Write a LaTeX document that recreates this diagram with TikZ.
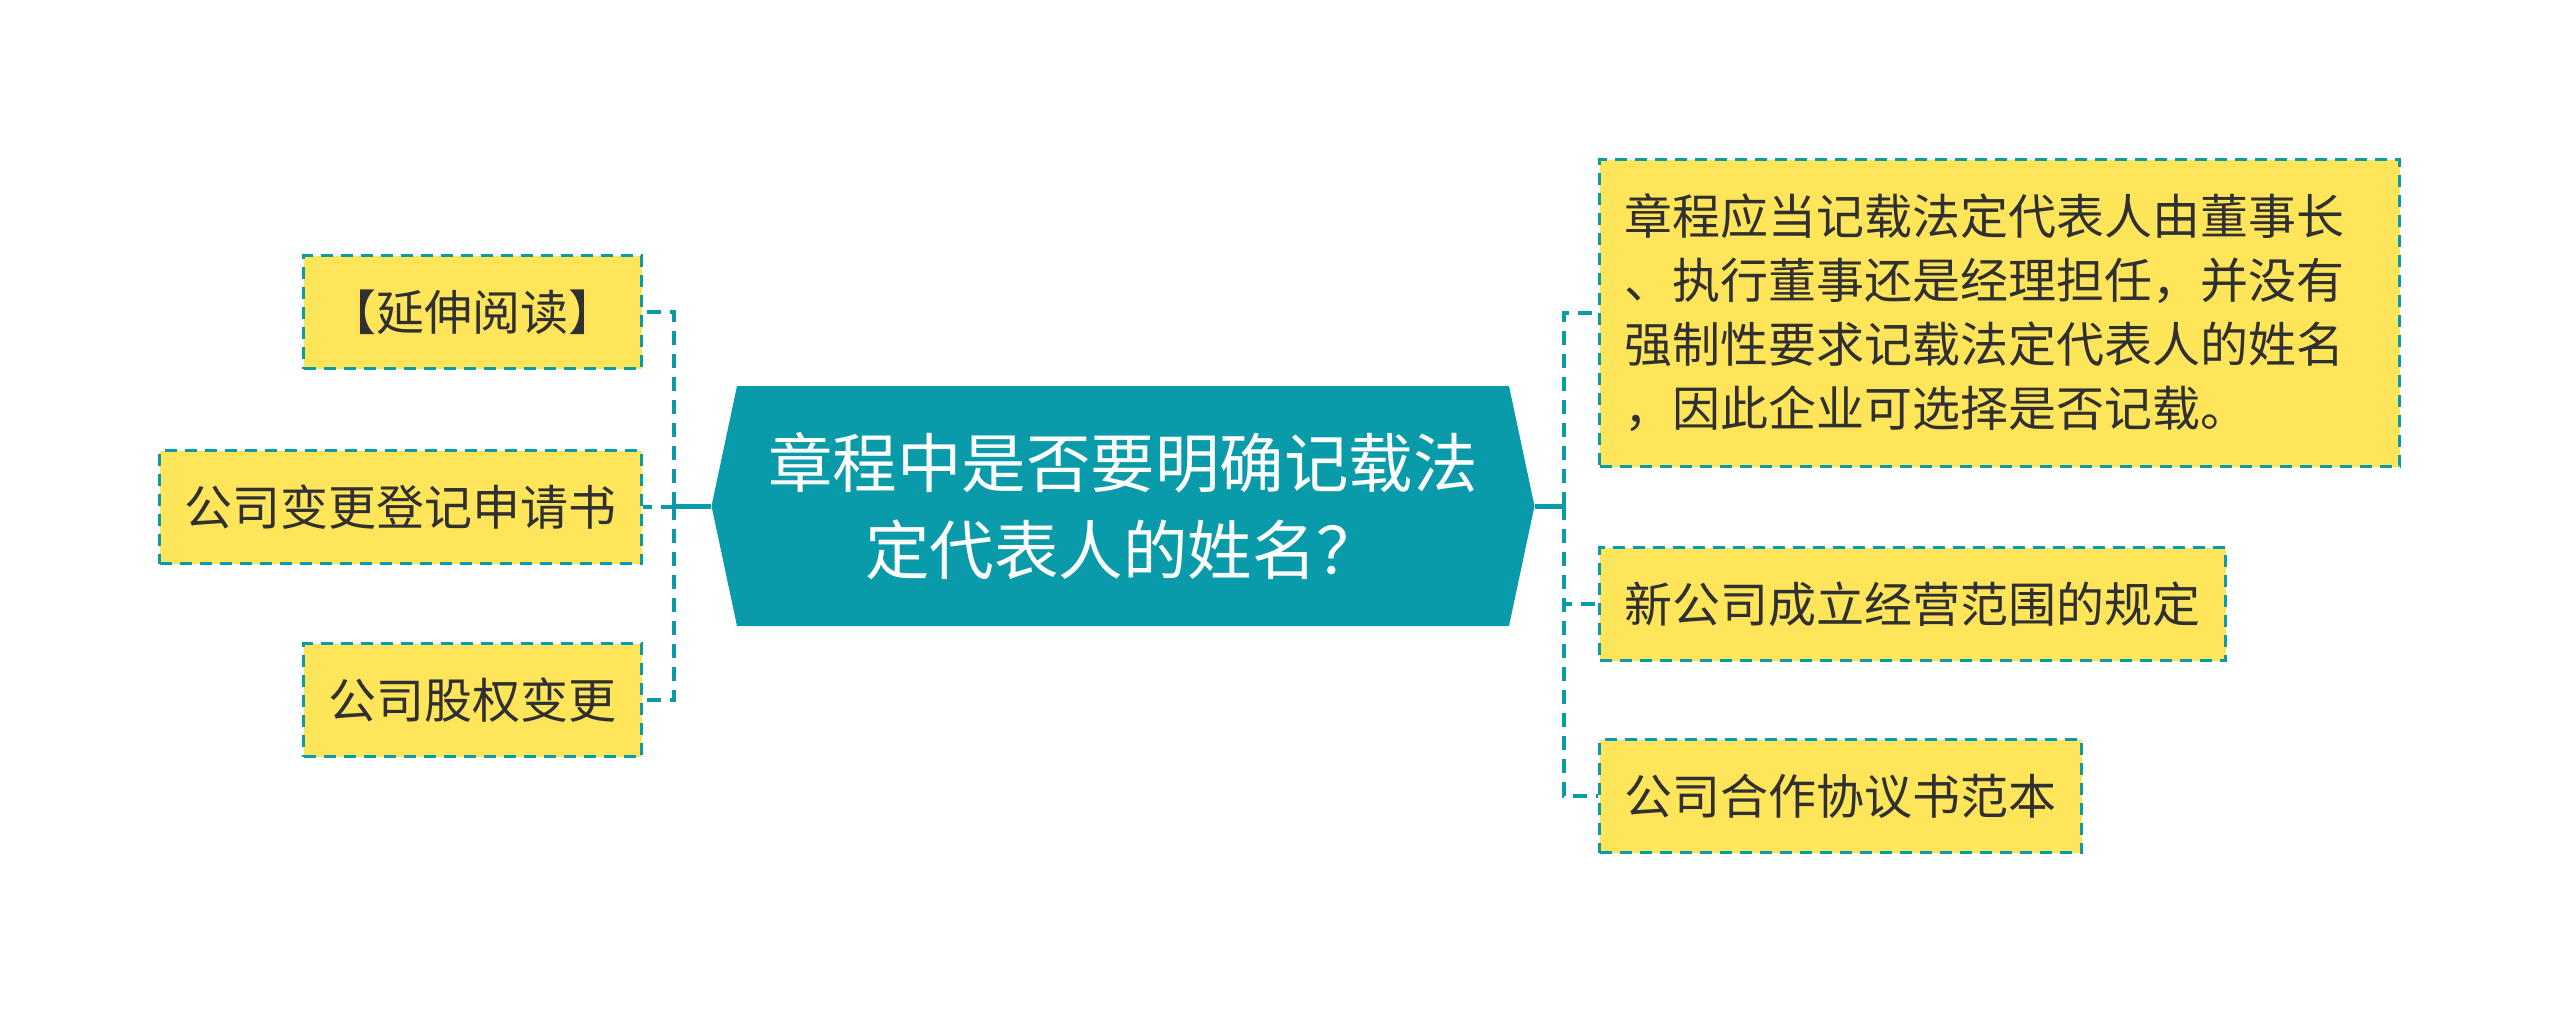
\documentclass[tikz,border=0pt]{standalone}
\usepackage{fontspec}
\setmainfont{Noto Sans CJK SC}
\usetikzlibrary{positioning}
\usetikzlibrary{shapes.symbols}
\definecolor{hubteal}{RGB}{10,155,170}
\definecolor{leafyellow}{RGB}{255,229,90}
\definecolor{leaftext}{RGB}{48,48,48}

\begin{document}
\begin{tikzpicture}[x=1pt, y=-1pt,
		hub/.style={shape=signal, signal to=west and east, signal pointer angle=156,
			fill=hubteal, text=white, minimum width=823pt, minimum height=240pt,
			inner sep=0pt, align=center, font=\fontsize{64.5}{87}\selectfont},
		leaf/.style={draw=hubteal, fill=leafyellow, line width=3pt,
			dash pattern=on 12pt off 8pt, text=leaftext,
			inner xsep=25pt, inner ysep=0pt, minimum height=113pt,
			font=\fontsize{48}{64}\selectfont},
		branch/.style={draw=hubteal, line width=5pt},
		twig/.style={draw=hubteal, line width=4pt, dash pattern=on 14pt off 9pt}
	]
		\useasboundingbox (0,0) rectangle (2560,1015);
		
		\node[hub] (root) at (1123,506) {章程中是否要明确记载法\\定代表人的姓名？};
		
		% left side
		\node[leaf, anchor=east] (jump) at (643,312) {【延伸阅读】};
		\node[leaf, anchor=east] (form) at (643,507) {公司变更登记申请书};
		\node[leaf, anchor=east] (equity) at (643,700) {公司股权变更};
		
		% right side
		\node[leaf, anchor=west, minimum height=307pt, text width=750pt, align=left]
			(rule) at (1598,313) {章程应当记载法定代表人由董事长\\、执行董事还是经理担任，并没有\\强制性要求记载法定代表人的姓名\\，因此企业可选择是否记载。};
		\node[leaf, anchor=west] (scope) at (1598,604) {新公司成立经营范围的规定};
		\node[leaf, anchor=west] (deal) at (1598,796) {公司合作协议书范本};
		
		\coordinate (lhub) at (674,506);
		\coordinate (rhub) at (1564,506);
		
		\draw[branch] (root.west) -- (lhub);
		\draw[branch] (root.east) -- (rhub);
		
		\foreach \n in {jump, form, equity}
			\draw[twig] (lhub) |- (\n);
		\foreach \n in {rule, scope, deal}
			\draw[twig] (rhub) |- (\n);
	\end{tikzpicture}
\end{document}
